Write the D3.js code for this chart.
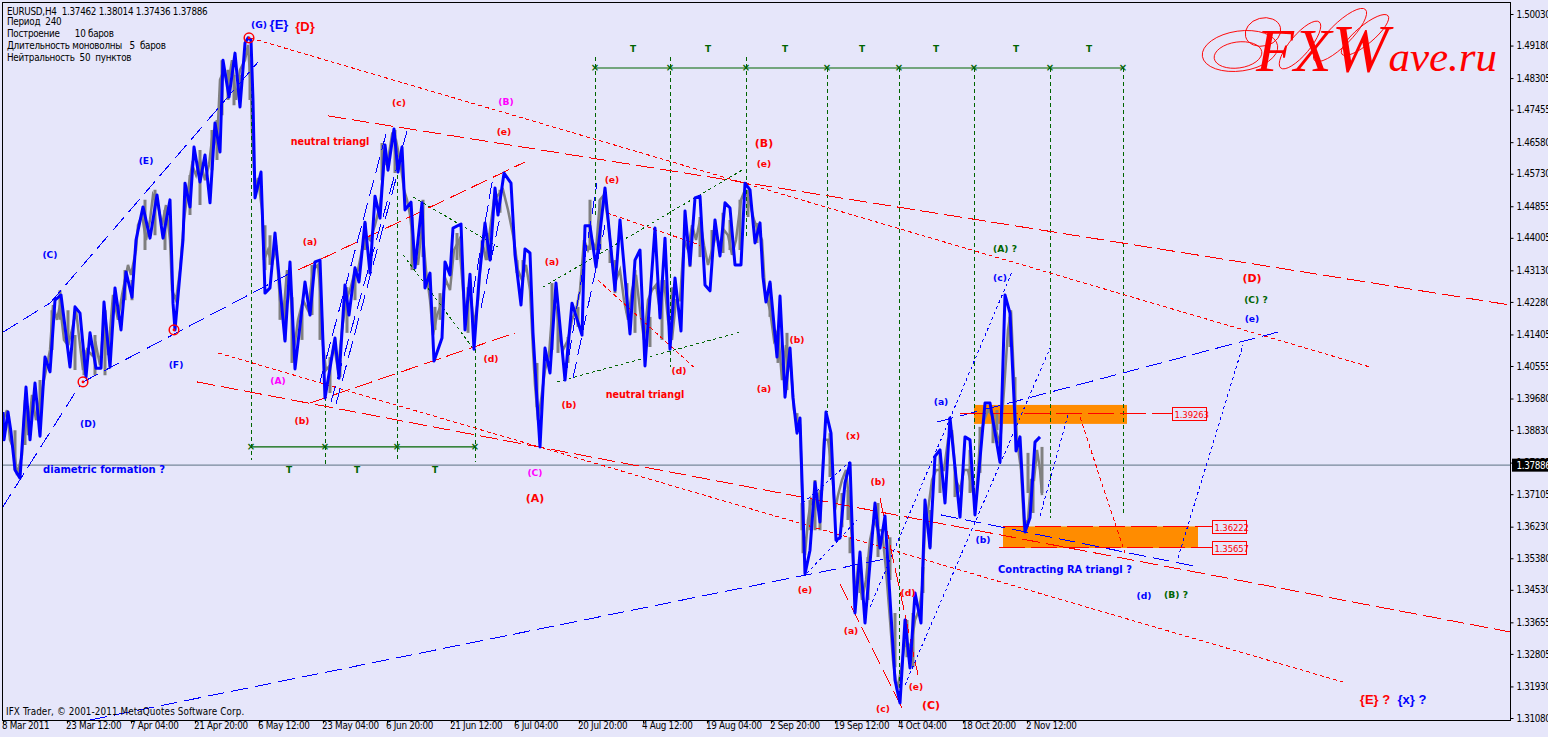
<!DOCTYPE html>
<html><head><meta charset="utf-8">
<script src="https://cdn.jsdelivr.net/npm/d3@7/dist/d3.min.js"></script>
<style>
html,body{margin:0;padding:0;background:#E6E6FA;overflow:hidden}
svg{display:block}
text{font-family:"DejaVu Sans Condensed","DejaVu Sans",sans-serif}
.lab{font-family:"DejaVu Sans",sans-serif;font-weight:bold;text-anchor:middle;dominant-baseline:central}
.big{font-family:"Liberation Sans",sans-serif}
</style></head><body>
<script>
// ---------- DATA ----------
const symbolTitle="EURUSD,H4  1.37462 1.38014 1.37436 1.37886";
const infoLines=["Период  240","Построение      10 баров","Длительность моноволны   5  баров","Нейтральность  50  пунктов"];
const copyrightText="IFX Trader, © 2001-2011 MetaQuotes Software Corp.";
const lastPrice=1.37886;
const priceTicks=[1.50030,1.49180,1.48305,1.47455,1.46580,1.45730,1.44855,1.44005,1.43130,1.42280,1.41405,1.40555,1.39680,1.38830,1.37955,1.37105,1.36230,1.35380,1.34530,1.33655,1.32805,1.31930,1.31080];
const timeTickBars=[3,67,131,195,259,323,387,451,515,579,643,707,771,835,899,963,1027];
const timeTickLabels=["8 Mar 2011","23 Mar 12:00","7 Apr 04:00","21 Apr 20:00","6 May 12:00","23 May 04:00","6 Jun 20:00","21 Jun 12:00","6 Jul 04:00","20 Jul 20:00","4 Aug 12:00","19 Aug 04:00","2 Sep 20:00","19 Sep 12:00","4 Oct 04:00","18 Oct 20:00","2 Nov 12:00"];

// thick zigzag: bar number, price
const zigzagBars=[3,4,8,11,15,20,26,30,35,40,45,50,55,61,70,75,80,86,90,96,101,104,110,115,121,126,132,136,143,150,157,163,170,173,175,183,185,190,194,200,205,210,215,220,223,229,235,240,245,248,251,253,255,261,265,270,275,285,290,295,305,310,315,320,325,335,339,345,349,355,359,365,370,375,380,385,388,394,398,402,405,411,415,422,425,430,434,442,445,450,453,461,465,470,474,479,485,490,495,498,504,511,515,521,525,530,533,537,540,545,550,556,565,572,582,585,590,596,605,615,620,630,635,640,645,655,660,665,670,675,681,685,690,695,700,705,710,715,720,725,730,735,741,745,750,755,760,763,766,770,777,780,785,790,793,797,800,805,810,815,820,826,831,836,840,845,850,855,860,865,875,880,885,895,900,905,910,915,921,925,930,935,940,945,950,960,965,970,975,985,990,1000,1005,1010,1015,1016,1020,1025,1030,1035,1040];
const zigzagPrices=[1.3929,1.3854,1.3929,1.3875,1.3773,1.3751,1.3996,1.3854,1.4007,1.3864,1.4077,1.4037,1.4230,1.4244,1.4050,1.4212,1.4195,1.4023,1.4142,1.4047,1.4047,1.4225,1.4050,1.4263,1.4150,1.4306,1.4238,1.4392,1.4481,1.4397,1.4513,1.4397,1.4500,1.4222,1.4150,1.4392,1.4545,1.4481,1.4642,1.4548,1.4621,1.4492,1.4707,1.4629,1.4876,1.4777,1.4895,1.4750,1.4922,1.4936,1.4930,1.4769,1.4505,1.4575,1.4249,1.4263,1.4411,1.4120,1.4333,1.4045,1.4279,1.4190,1.4333,1.4338,1.3967,1.4128,1.4020,1.4271,1.4190,1.4317,1.4279,1.4440,1.4303,1.4510,1.4451,1.4648,1.4580,1.4691,1.4575,1.4642,1.4473,1.4494,1.4317,1.4492,1.4263,1.4303,1.4066,1.4128,1.4333,1.4298,1.4424,1.4435,1.4150,1.4300,1.4098,1.4284,1.4438,1.4338,1.4532,1.4459,1.4572,1.4545,1.4352,1.4217,1.4368,1.4357,1.4142,1.3961,1.3835,1.4101,1.4034,1.4276,1.4015,1.4222,1.4136,1.4430,1.4430,1.4319,1.4532,1.4257,1.4446,1.4139,1.4338,1.4365,1.4053,1.4424,1.4182,1.4397,1.4098,1.4290,1.4147,1.4470,1.4325,1.4505,1.4510,1.4271,1.4255,1.4446,1.4349,1.4492,1.4478,1.4325,1.4325,1.4545,1.4527,1.4384,1.4438,1.4292,1.4225,1.4279,1.4077,1.4241,1.3969,1.4101,1.3967,1.3872,1.3913,1.3493,1.3557,1.3740,1.3633,1.3929,1.3872,1.3584,1.3590,1.3738,1.3792,1.3388,1.3552,1.3361,1.3684,1.3563,1.3649,1.3207,1.3146,1.3369,1.3240,1.3442,1.3361,1.3692,1.3563,1.3810,1.3827,1.3684,1.3913,1.3646,1.3862,1.3854,1.3652,1.3953,1.3953,1.3794,1.4244,1.4195,1.3907,1.3824,1.3862,1.3606,1.3644,1.3848,1.3862];

// thin grey price line: bar number, price
const closeBars=[3,7,10,14,17,22,25,28,32,36,42,47,50,53,57,60,64,68,72,76,80,83,87,92,96,100,105,108,113,118,122,128,131,136,138,142,146,150,153,158,162,166,170,172,176,180,184,188,192,196,200,205,209,213,217,220,224,228,232,236,240,245,248,251,252,255,258,262,264,268,272,276,280,283,287,291,294,298,303,308,313,318,321,323,326,330,334,338,342,346,350,354,358,362,366,370,375,380,384,388,392,396,400,404,407,410,414,418,422,426,430,433,437,441,446,450,454,459,463,466,470,474,478,482,486,490,494,498,503,508,514,518,522,526,530,533,535,538,541,545,549,553,557,560,563,568,572,576,580,584,588,592,596,600,604,608,612,616,620,624,628,632,636,640,644,648,652,656,660,664,668,672,676,680,684,688,692,696,700,704,708,712,716,720,724,728,732,736,741,745,749,754,758,762,765,770,774,778,782,786,790,794,797,800,803,805,808,811,815,818,822,824,828,832,835,838,842,846,849,852,855,858,862,866,870,874,878,882,886,890,893,897,901,905,908,912,915,919,922,925,928,932,936,940,944,948,952,956,960,964,968,972,976,980,984,988,992,996,1000,1004,1008,1011,1014,1017,1021,1024,1028,1031,1034,1037,1040,1042];
const closePrices=[1.3907,1.3934,1.3854,1.3827,1.3759,1.3813,1.3961,1.3867,1.3975,1.3907,1.3988,1.4055,1.4096,1.4217,1.4177,1.4217,1.4123,1.4109,1.4150,1.4203,1.4109,1.4042,1.4096,1.4082,1.4109,1.4055,1.4203,1.4082,1.4244,1.4177,1.4244,1.4325,1.4298,1.4365,1.4432,1.4459,1.4392,1.4446,1.4513,1.4486,1.4432,1.4486,1.4392,1.4257,1.4230,1.4311,1.4446,1.4527,1.4594,1.4567,1.4607,1.4553,1.4594,1.4688,1.4648,1.4823,1.4850,1.4809,1.4876,1.4769,1.4850,1.4876,1.4917,1.4796,1.4688,1.4527,1.4559,1.4473,1.4338,1.4365,1.4325,1.4378,1.4230,1.4177,1.4311,1.4230,1.4096,1.4177,1.4230,1.4203,1.4311,1.4325,1.4230,1.4109,1.4042,1.4055,1.4109,1.4042,1.4150,1.4230,1.4257,1.4298,1.4311,1.4365,1.4405,1.4392,1.4432,1.4486,1.4594,1.4607,1.4675,1.4661,1.4607,1.4527,1.4500,1.4459,1.4365,1.4325,1.4432,1.4311,1.4230,1.4136,1.4190,1.4217,1.4284,1.4257,1.4365,1.4392,1.4257,1.4190,1.4257,1.4163,1.4230,1.4392,1.4338,1.4419,1.4500,1.4513,1.4527,1.4473,1.4392,1.4311,1.4284,1.4325,1.4257,1.4096,1.4002,1.3907,1.3961,1.4042,1.4082,1.4230,1.4203,1.4123,1.4096,1.4123,1.4177,1.4203,1.4257,1.4392,1.4365,1.4392,1.4365,1.4500,1.4513,1.4446,1.4338,1.4284,1.4311,1.4230,1.4177,1.4257,1.4298,1.4203,1.4123,1.4230,1.4257,1.4271,1.4203,1.4284,1.4177,1.4123,1.4230,1.4230,1.4392,1.4365,1.4432,1.4392,1.4446,1.4378,1.4325,1.4365,1.4405,1.4378,1.4419,1.4405,1.4352,1.4392,1.4500,1.4527,1.4500,1.4446,1.4419,1.4392,1.4257,1.4203,1.4123,1.4150,1.4015,1.4109,1.4082,1.3934,1.3907,1.3894,1.3638,1.3544,1.3638,1.3692,1.3665,1.3705,1.3719,1.3854,1.3854,1.3773,1.3665,1.3705,1.3746,1.3773,1.3692,1.3584,1.3423,1.3517,1.3423,1.3477,1.3584,1.3638,1.3611,1.3611,1.3504,1.3369,1.3261,1.3181,1.3234,1.3315,1.3288,1.3315,1.3369,1.3396,1.3450,1.3611,1.3665,1.3746,1.3773,1.3773,1.3773,1.3854,1.3880,1.3746,1.3719,1.3773,1.3773,1.3719,1.3692,1.3854,1.3907,1.3934,1.3921,1.3880,1.3840,1.3988,1.4150,1.4203,1.4015,1.3854,1.3773,1.3625,1.3638,1.3746,1.3746,1.3827,1.3773,1.3705];
// grey bar ranges: bar number, high, low
const rangeBars=[15,25,40,52,60,68,75,84,95,105,125,132,145,155,165,190,200,212,217,222,228,234,240,250,265,270,280,285,292,302,312,320,330,340,347,355,365,382,395,412,423,435,440,457,468,487,500,517,523,537,552,558,568,578,590,600,610,615,627,635,650,662,672,690,700,712,723,730,740,748,757,770,778,787,797,802,803,810,815,820,830,842,848,850,860,868,878,890,895,907,913,923,930,940,955,970,980,993,997,1010,1015,1028,1033,1042];
const rangeHighs=[1.3880,1.3921,1.4015,1.4203,1.4257,1.4203,1.4136,1.4096,1.4136,1.4203,1.4311,1.4284,1.4500,1.4527,1.4473,1.4567,1.4634,1.4688,1.4715,1.4876,1.4850,1.4836,1.4836,1.4876,1.4432,1.4405,1.4257,1.4230,1.4238,1.4212,1.4325,1.4292,1.4077,1.4069,1.4265,1.4303,1.4438,1.4653,1.4688,1.4454,1.4500,1.4212,1.4249,1.4411,1.4265,1.4411,1.4527,1.4338,1.4338,1.4061,1.4276,1.4203,1.4131,1.4212,1.4500,1.4500,1.4365,1.4338,1.4276,1.4311,1.4185,1.4284,1.4265,1.4400,1.4454,1.4419,1.4465,1.4446,1.4500,1.4527,1.4438,1.4276,1.4142,1.4142,1.3926,1.3684,1.3684,1.3692,1.3746,1.3719,1.3872,1.3711,1.3719,1.3592,1.3539,1.3539,1.3684,1.3592,1.3388,1.3369,1.3388,1.3512,1.3665,1.3819,1.3781,1.3827,1.3889,1.3926,1.3934,1.4185,1.4023,1.3819,1.3746,1.3835];
const rangeLows=[1.3773,1.3840,1.3907,1.4096,1.4177,1.4109,1.4042,1.4028,1.4028,1.4028,1.4230,1.4230,1.4365,1.4405,1.4365,1.4459,1.4486,1.4580,1.4607,1.4728,1.4769,1.4755,1.4769,1.4769,1.4311,1.4325,1.4177,1.4123,1.4061,1.4123,1.4190,1.4123,1.3980,1.4023,1.4142,1.4230,1.4365,1.4553,1.4572,1.4311,1.4346,1.4150,1.4177,1.4338,1.4142,1.4338,1.4465,1.4303,1.4292,1.3942,1.4096,1.4088,1.4061,1.4158,1.4365,1.4365,1.4330,1.4249,1.4195,1.4142,1.4104,1.4123,1.4177,1.4319,1.4346,1.4346,1.4357,1.4365,1.4365,1.4454,1.4384,1.4185,1.4061,1.3988,1.3880,1.3611,1.3549,1.3611,1.3611,1.3611,1.3754,1.3619,1.3638,1.3549,1.3442,1.3423,1.3539,1.3477,1.3242,1.3269,1.3242,1.3442,1.3565,1.3711,1.3700,1.3711,1.3765,1.3845,1.3880,1.4104,1.3953,1.3711,1.3657,1.3711];

// trend lines: [bar, price, bar, price]
const blueDashLines=[[2,1.3670,80,1.4002],[3,1.4144,50,1.4222],[50,1.4222,258,1.4871],[83,1.4010,296,1.4311],[90,1.3100,890,1.3536],[937,1.3902,1282,1.4147],[941,1.3652,1198,1.3512],[320,1.4010,386,1.4677],[331,1.3956,407,1.4685],[336,1.3950,397,1.4567],[473,1.4249,493,1.4562],[481,1.4209,500,1.4454],[565,1.4015,597,1.4545],[573,1.4020,605,1.4432]];
const blueDotLines=[[803,1.3684,853,1.3802],[807,1.3495,857,1.3638],[870,1.3404,1012,1.4306],[905,1.3194,1050,1.4101],[1040,1.3649,1068,1.3921],[1178,1.3536,1243,1.4109]];
const redDashLines=[[298,1.4311,525,1.4602],[310,1.3953,515,1.4142],[328,1.4726,1510,1.4217],[197,1.4010,1510,1.3337],[840,1.3466,903,1.3127],[880,1.3697,918,1.3221]];
const redDotLines=[[250,1.4936,1370,1.4050],[218,1.4088,1343,1.3202],[607,1.4465,700,1.4378],[598,1.4284,695,1.4047],[1080,1.3915,1125,1.3549]];
const greenDotLines=[[543,1.4265,742,1.4580],[557,1.4010,740,1.4144],[403,1.4352,473,1.4101],[413,1.4508,500,1.4370]];
// vertical time lines: [bar, top price, bottom price]
const greenVerticals=[[251,1.4917,1.3800],[325,1.4007,1.3784],[397,1.4567,1.3794],[475,1.4098,1.3794],[595,1.4885,1.4451],[670,1.4885,1.4050],[746,1.4885,1.4400],[827,1.4855,1.3929],[899,1.4855,1.3146],[974,1.4855,1.3654],[1050,1.4855,1.3644],[1123,1.4855,1.3652]];
const lowerTimeNodes=[251,325,397,475], lowerTimePrice=1.3835;
const upperTimeNodes=[595,670,746,827,899,974,1050,1123], upperTimePrice=1.4855;
const lowerTBars=[289,357,435], lowerTPrice=1.3773;
const upperTBars=[633,708,785,862,936,1016,1089], upperTPrice=1.4907;
// target zones: [bar start, bar end, top price, bottom price]
const zones=[[974,1127,1.3948,1.3897],[1003,1198,1.3621,1.3563]];
// price levels: [value, bar start, bar end of line / label]
const levels=[[1.39263,960,1172],[1.36222,1003,1212],[1.35657,999,1212]];
const pivotBars=[249,83,174], pivotPrices=[1.4936,1.4010,1.4150];
// wave labels
const labelText=["(G)","{E}","{D}","(C)","(E)","(F)","(D)","diametric formation ?","neutral triangl","(c)","(B)","(e)","(B)","(e)","(a)","(A)","(b)","(d)","(C)","(A)","(a)","(e)","(b)","neutral triangl","(d)","(a)","(b)","(x)","(b)","(e)","(a)","(d)","(e)","(c)","(C)","(a)","(c)","(A) ?","(D)","(C) ?","(e)","(b)","Contracting RA triangl ?","(d)","(B) ?","{E} ?","{x} ?"];
const labelBars=[259,279,305,50,146,176,88,104,330,399,506,504,764,764,310,278,302,491,535,535,552,612,569,645,679,764,797,853,878,805,851,908,916,883,931,941,1000,1005,1252,1256,1252,983,1065,1144,1176,1375,1412];
const labelPrices=[1.4971,1.4971,1.4968,1.4354,1.4607,1.4058,1.3899,1.3773,1.4658,1.4763,1.4766,1.4685,1.4653,1.4599,1.4387,1.4015,1.3905,1.4072,1.3765,1.3697,1.4333,1.4556,1.3950,1.3977,1.4042,1.3991,1.4123,1.3867,1.3743,1.3452,1.3342,1.3442,1.3191,1.3132,1.3140,1.3956,1.4290,1.4368,1.4287,1.4233,1.4182,1.3587,1.3504,1.3434,1.3439,1.3154,1.3154];
const labelColors=["#0000ff","#0000ff","#ff0000","#0000ff","#0000ff","#0000ff","#0000ff","#0000ff","#ff0000","#ff0000","#ff00ff","#ff0000","#ff0000","#ff0000","#ff0000","#ff00ff","#ff0000","#ff0000","#ff00ff","#ff0000","#ff0000","#ff0000","#ff0000","#ff0000","#ff0000","#ff0000","#ff0000","#ff0000","#ff0000","#ff0000","#ff0000","#ff0000","#ff0000","#ff0000","#ff0000","#0000ff","#0000ff","#006400","#ff0000","#006400","#0000ff","#0000ff","#0000ff","#0000ff","#006400","#ff0000","#0000ff"];
const labelSizes=[9.2,13,13,9.2,9.2,9.2,9.2,10,9.6,9.2,9.2,9.2,11,9.2,9.2,9.2,9.2,9.2,9.2,11,9.2,9.2,9.2,9.6,9.2,9.2,9.2,9.2,9.2,9.2,9.2,9.2,9.2,9.2,11,9.2,9.2,9.2,11,9.2,9.2,9.2,9.9,9.2,9.2,13,13];

// ---------- CHART ----------
const W=1548,H=737;
const plot={left:2.5,top:2.5,right:1510.5,bottom:720.5};
const x=d3.scaleLinear().domain([0,W]).range([0,W]);
const y=d3.scaleLinear().domain([1.3108,1.5003]).range([717,13]);
const svg=d3.select("body").append("svg").attr("width",W).attr("height",H);
svg.append("rect").attr("width",W).attr("height",H).attr("fill","#E6E6FA");

svg.append("defs").append("clipPath").attr("id","plot").append("rect")
  .attr("x",plot.left).attr("y",plot.top).attr("width",plot.right-plot.left).attr("height",plot.bottom-plot.top);
const g=svg.append("g").attr("clip-path","url(#plot)");

// zones
g.selectAll(".zone").data(zones).join("rect").attr("class","zone")
 .attr("x",d=>x(d[0])).attr("width",d=>x(d[1])-x(d[0]))
 .attr("y",d=>y(d[2])).attr("height",d=>y(d[3])-y(d[2])).attr("fill","#FF8C00");

// last price line
g.append("line").attr("x1",plot.left).attr("x2",plot.right).attr("y1",y(lastPrice)+1).attr("y2",y(lastPrice)+1)
 .attr("stroke","#77889A").attr("stroke-width",1.3);

function segs(data,color,dash,w){
  g.append("g").selectAll("line").data(data).join("line")
   .attr("x1",d=>x(d[0])).attr("y1",d=>y(d[1])).attr("x2",d=>x(d[2])).attr("y2",d=>y(d[3]))
   .attr("stroke",color).attr("stroke-width",w||1).attr("stroke-dasharray",dash).attr("shape-rendering","crispEdges");
}
// grey price
g.append("path").attr("d",d3.line().x(i=>x(closeBars[i])).y(i=>y(closePrices[i]))(d3.range(closeBars.length)))
 .attr("fill","none").attr("stroke","#808080").attr("stroke-width",2.5);
g.append("g").selectAll("line").data(d3.range(rangeBars.length)).join("line")
 .attr("x1",i=>x(rangeBars[i])).attr("x2",i=>x(rangeBars[i])).attr("y1",i=>y(rangeHighs[i])).attr("y2",i=>y(rangeLows[i]))
 .attr("stroke","#808080").attr("stroke-width",3);

segs(greenVerticals.map(d=>[d[0],d[1],d[0],d[2]]),"#006400","4,3");
segs(greenDotLines,"#006400","3,3");
segs(redDashLines,"#ff0000","18,6");
segs(redDotLines,"#ff0000","4,3");
segs(blueDashLines,"#0000ff","17,7");
segs(blueDotLines,"#0000ff","3,3");

// price levels
g.selectAll(".lvl").data(levels).join("line").attr("class","lvl")
 .attr("x1",d=>x(d[1])).attr("x2",d=>x(d[2])).attr("y1",d=>y(d[0])+1).attr("y2",d=>y(d[0])+1)
 .attr("stroke","#ff0000").attr("stroke-dasharray","26,6").attr("shape-rendering","crispEdges");

// zigzag
g.append("path").attr("d",d3.line().x(i=>x(zigzagBars[i])).y(i=>y(zigzagPrices[i]))(d3.range(zigzagBars.length)))
 .attr("fill","none").attr("stroke","#0000ff").attr("stroke-width",3).attr("stroke-linejoin","round");

// time-ruler lines
[[lowerTimeNodes,lowerTimePrice],[upperTimeNodes,upperTimePrice]].forEach(([nodes,p])=>{
  g.append("line").attr("x1",x(nodes[0])).attr("x2",x(nodes[nodes.length-1])).attr("y1",y(p)).attr("y2",y(p)).attr("stroke","#006400").attr("stroke-width",1.2);
  g.append("g").selectAll("text").data(nodes).join("text").attr("class","lab")
   .attr("x",d=>x(d)).attr("y",y(p)).attr("font-size",10).attr("fill","#006400").text("×");
});
[[lowerTBars,lowerTPrice],[upperTBars,upperTPrice]].forEach(([bars,p])=>{
  g.append("g").selectAll("text").data(bars).join("text").attr("class","lab")
   .attr("x",d=>x(d)).attr("y",y(p)).attr("font-size",9).attr("fill","#006400").text("T");
});

// level tags
svg.append("g").selectAll("g").data(levels).join("g").each(function(d){
  const t=d3.select(this), cy=y(d[0])+1, lx=x(d[2]);
  t.append("rect").attr("x",lx+.5).attr("y",Math.round(cy)-6.5).attr("width",34).attr("height",13).attr("fill","#E6E6FA").attr("stroke","#ff0000");
  t.append("text").attr("x",lx+2.5).attr("y",Math.round(cy)+3.5).attr("font-size",9.5).attr("letter-spacing",-.15).attr("fill","#ff0000").text(d[0].toFixed(5));
});

// pivots
const pg=svg.append("g").selectAll("g").data(d3.range(pivotBars.length)).join("g")
 .attr("transform",i=>`translate(${x(pivotBars[i])},${y(pivotPrices[i])})`);
pg.append("circle").attr("r",4.8).attr("fill","none").attr("stroke","#ff0000").attr("stroke-width",1.5);
pg.append("circle").attr("r",1.4).attr("fill","#ff0000");

// labels
svg.append("g").selectAll("text").data(d3.range(labelText.length)).join("text")
 .attr("class",i=>labelSizes[i]===13?"lab big":"lab")
 .attr("x",i=>x(labelBars[i])).attr("y",i=>y(labelPrices[i]))
 .attr("font-size",i=>labelSizes[i]).attr("fill",i=>labelColors[i]).text(i=>labelText[i]);

// frame
svg.append("rect").attr("x",plot.left).attr("y",plot.top).attr("width",plot.right-plot.left).attr("height",plot.bottom-plot.top)
 .attr("fill","none").attr("stroke","#000");

// axes
const FONT="DejaVu Sans Condensed";
const yAxis=d3.axisRight(y).tickValues(priceTicks).tickSize(3).tickPadding(3).tickFormat(d3.format(".5f"));
const ya=svg.append("g").attr("transform",`translate(${plot.right},1)`).call(yAxis);
ya.select(".domain").remove();
ya.selectAll("text").attr("font-size",9.8).attr("font-family",FONT).attr("letter-spacing",-.35).attr("fill","#000");
ya.selectAll("line").attr("stroke","#000");
const xa=svg.append("g").attr("transform",`translate(0,${plot.bottom})`)
 .call(d3.axisBottom(x).tickValues(timeTickBars).tickSize(3).tickFormat((d,i)=>timeTickLabels[i]));
xa.select(".domain").remove();
xa.selectAll("text").attr("font-size",9.8).attr("font-family",FONT).attr("letter-spacing",-.3).attr("fill","#000").attr("text-anchor","start").attr("dx",-1.5).attr("dy",2);
xa.selectAll("line").attr("stroke","#000");

// last price tag
svg.append("rect").attr("x",1512).attr("y",y(lastPrice)-5.5).attr("width",36).attr("height",13).attr("fill","#000");
svg.append("text").attr("x",1516.5).attr("y",y(lastPrice)+4.5).attr("font-size",9.8).attr("letter-spacing",-.35).attr("fill","#fff").text(lastPrice.toFixed(5));

// info text
svg.append("text").attr("x",7).attr("y",14.5).attr("font-size",9.8).attr("letter-spacing",-.27).attr("fill","#000").style("white-space","pre").text(symbolTitle);
const infoY=[24.5,37,49,61];
svg.append("g").selectAll("text").data(infoLines).join("text").attr("x",7).attr("y",(d,i)=>infoY[i]).attr("font-size",9.8).attr("letter-spacing",-.27).attr("fill","#000").style("white-space","pre").text(d=>d);
svg.append("text").attr("x",6).attr("y",715).attr("font-size",9.8).attr("letter-spacing",.1).attr("fill","#000").text(copyrightText);

// logo
const logo=svg.append("g");
const logoText=logo.append("text").attr("x",1256).attr("y",71).attr("fill","#ff0000").style("font-family","'Liberation Serif',serif").style("font-style","italic");
logoText.append("tspan").attr("font-size",62).text("FX");
logoText.append("tspan").attr("font-size",68).text("W");
logoText.append("tspan").attr("font-size",43).text("ave.ru");
const swirl=[[1240,51,38,20,-8],[1238,55,24,13,-8],[1263,32,18,14,-15],[1300,45,30,10,-50],[1340,35,36,11,-45],[1365,35,30,9,-40]];
logo.selectAll("ellipse").data(swirl).join("ellipse")
 .attr("cx",d=>d[0]).attr("cy",d=>d[1]).attr("rx",d=>d[2]).attr("ry",d=>d[3])
 .attr("transform",d=>`rotate(${d[4]} ${d[0]} ${d[1]})`).attr("fill","none").attr("stroke","#ff0000").attr("stroke-width",.9);
</script>
</body></html>
